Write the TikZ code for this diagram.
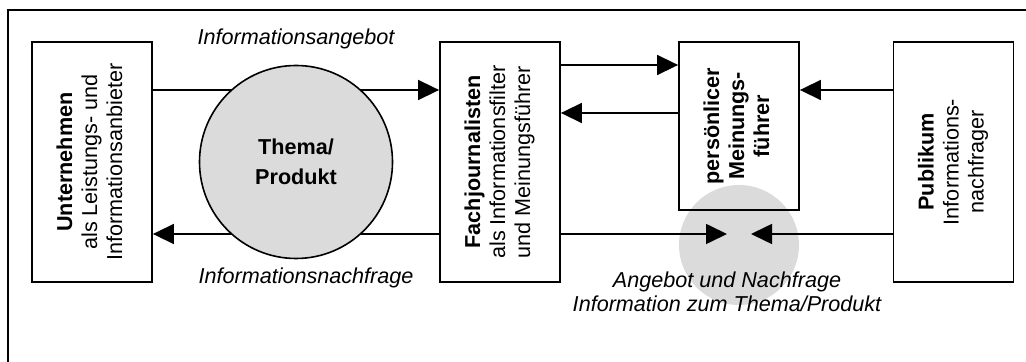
\documentclass[tikz,border=0pt]{standalone}
\usepackage{fontspec}
\setmainfont{Liberation Sans}
\usepackage{graphicx}
\usetikzlibrary{arrows.meta}
\newcommand{\upright}[1]{\rotatebox{90}{\begin{tabular}{@{}c@{}}#1\end{tabular}}}

\begin{document}
\begin{tikzpicture}[x=0.5pt,y=-0.5pt,font=\fontsize{10.8}{12.5}\selectfont]
  \tikzstyle{Box}=[draw,line width=0.9pt,inner sep=0pt,minimum width=60pt]
  \tikzstyle{Flow}=[line width=0.8pt,-{Triangle[length=10.5pt,width=10pt]}]
  \tikzstyle{Label}=[font=\itshape\fontsize{10.8}{12}\selectfont,align=center]
  \useasboundingbox (0,0) rectangle (1026,362);
  \draw[line width=1.2pt] (8,362) -- (8,10) -- (1026,10);
  \node[circle,fill=black!14,minimum size=60pt,inner sep=0pt] (treff) at (739,245) {};
  \node[Box,minimum height=120pt] (unt) at (92,162)
    {\upright{\textbf{Unternehmen}\\als Leistungs- und\\Informationsanbieter}};
  \node[Box,minimum height=120pt] (fach) at (500,162)
    {\upright{\textbf{Fachjournalisten}\\als Informationsfilter\\und Meinungsführer}};
  \node[Box,minimum height=84pt] (mein) at (739,126)
    {\upright{\textbf{persönlicer}\\\textbf{Meinungs-}\\\textbf{führer}}};
  \node[Box,minimum height=120pt] (pub) at (953.5,162)
    {\upright{\textbf{Publikum}\\Informations-\\nachfrager}};
  \coordinate (treffL) at (727,234);
  \coordinate (treffR) at (751,234);
  \draw[Flow] ([yshift=36pt]unt.east) -- ([yshift=36pt]fach.west);
  \draw[Flow] ([yshift=-36pt]fach.west) -- ([yshift=-36pt]unt.east);
  \draw[Flow] ([yshift=48.5pt]fach.east) coordinate (a1) -- (a1 -| mein.west);
  \draw[Flow] ([yshift=6.5pt]mein.west) coordinate (a2) -- (a2 -| fach.east);
  \draw[Flow] ([yshift=36pt]pub.west) coordinate (a3) -- (a3 -| mein.east);
  \draw[Flow] (fach.east |- treffL) -- (treffL);
  \draw[Flow] (pub.west |- treffR) -- (treffR);
  \node[circle,draw,line width=0.8pt,fill=black!14,minimum size=96.5pt,inner sep=0pt,
    align=center,font=\bfseries\fontsize{10.8}{15}\selectfont] (thema) at (296,162)
    {Thema/\\Produkt};
  \node[Label] (angebot) at (296,39) {Informationsangebot};
  \node[Label] (nachfrage) at (306,278) {Informationsnachfrage};
  \node[Label] (markt) at (727,292) {Angebot und Nachfrage\\Information zum Thema/Produkt};
\end{tikzpicture}
\end{document}
